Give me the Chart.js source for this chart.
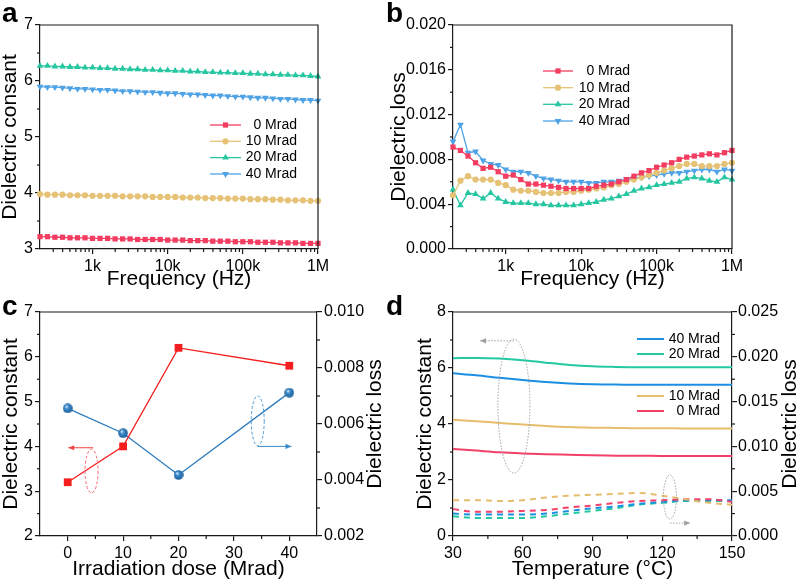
<!DOCTYPE html>
<html><head><meta charset="utf-8">
<script src="https://cdn.jsdelivr.net/npm/chart.js@4/dist/chart.umd.min.js"></script>
<style>
html,body{margin:0;padding:0;background:#fff;}
#wrap{position:relative;width:800px;height:584px;overflow:hidden;background:#fff;}
#wrap canvas{position:absolute;left:0;top:0;}
</style></head><body>
<div id="wrap">
<canvas id="ca" width="800" height="584"></canvas>
<canvas id="cb" width="800" height="584"></canvas>
<canvas id="cc" width="800" height="584"></canvas>
<canvas id="cd" width="800" height="584"></canvas>
</div>
<script>
// ---------------- data ----------------
const freqHz = [200,251,316,398,501,631,794,1000,1259,1585,1995,2512,3162,3981,5012,6310,7943,10000,12589,15849,19953,25119,31623,39811,50119,63096,79433,100000,125893,158489,199526,251189,316228,398107,501187,630957,794328,1000000];
const doseLabels = ['0 Mrad','10 Mrad','20 Mrad','40 Mrad'];

// (a) dielectric constant vs frequency
const epsA0  = [3.22,3.22,3.21,3.21,3.20,3.20,3.20,3.19,3.19,3.19,3.18,3.18,3.18,3.17,3.17,3.17,3.17,3.16,3.16,3.16,3.15,3.15,3.15,3.14,3.14,3.14,3.13,3.13,3.13,3.12,3.12,3.12,3.11,3.11,3.11,3.10,3.10,3.10];
const epsA10 = [3.98,3.97,3.97,3.97,3.96,3.96,3.96,3.95,3.95,3.95,3.95,3.94,3.94,3.94,3.94,3.93,3.93,3.93,3.93,3.92,3.92,3.92,3.91,3.91,3.91,3.90,3.90,3.90,3.89,3.89,3.89,3.88,3.88,3.87,3.87,3.87,3.86,3.86];
const epsA20 = [6.27,6.27,6.26,6.26,6.25,6.25,6.24,6.24,6.23,6.23,6.22,6.22,6.21,6.21,6.20,6.20,6.19,6.19,6.18,6.18,6.17,6.17,6.16,6.16,6.15,6.15,6.14,6.14,6.13,6.13,6.12,6.12,6.11,6.11,6.10,6.10,6.09,6.08];
const epsA40 = [5.90,5.89,5.89,5.88,5.87,5.86,5.86,5.85,5.84,5.84,5.83,5.82,5.82,5.81,5.80,5.80,5.79,5.78,5.78,5.77,5.76,5.76,5.75,5.74,5.74,5.73,5.72,5.72,5.71,5.70,5.70,5.69,5.68,5.68,5.67,5.66,5.66,5.65];

// (b) dielectric loss vs frequency
const lossB0  = [0.0091,0.0088,0.0083,0.0077,0.0072,0.0073,0.0069,0.0065,0.0066,0.0062,0.0058,0.0058,0.0057,0.0056,0.0055,0.0054,0.0054,0.0054,0.0054,0.0056,0.0057,0.0058,0.0060,0.0062,0.0065,0.0068,0.0070,0.0073,0.0075,0.0077,0.0080,0.0082,0.0083,0.0084,0.0085,0.0084,0.0086,0.0088];
const lossB10 = [0.0048,0.0061,0.0065,0.0062,0.0062,0.0062,0.0059,0.0057,0.0053,0.0052,0.0052,0.0051,0.0050,0.0050,0.0050,0.0051,0.0051,0.0052,0.0053,0.0054,0.0055,0.0057,0.0058,0.0060,0.0062,0.0064,0.0066,0.0068,0.0070,0.0072,0.0074,0.0076,0.0076,0.0074,0.0074,0.0074,0.0076,0.0077];
const lossB20 = [0.0053,0.0039,0.0050,0.0049,0.0045,0.0050,0.0045,0.0042,0.0041,0.0041,0.0041,0.0040,0.0040,0.0039,0.0039,0.0039,0.0039,0.0040,0.0041,0.0042,0.0044,0.0045,0.0047,0.0049,0.0052,0.0054,0.0055,0.0057,0.0058,0.0059,0.0060,0.0063,0.0064,0.0063,0.0061,0.0060,0.0064,0.0062];
const lossB40 = [0.0096,0.0111,0.0086,0.0087,0.0079,0.0076,0.0075,0.0071,0.0069,0.0069,0.0068,0.0065,0.0063,0.0062,0.0061,0.0060,0.0060,0.0060,0.0059,0.0059,0.0060,0.0060,0.0061,0.0062,0.0063,0.0064,0.0065,0.0066,0.0067,0.0068,0.0068,0.0069,0.0070,0.0071,0.0071,0.0069,0.0071,0.0070];

// (c) vs irradiation dose
const doseMrad = [0,10,20,40];
const epsC  = [3.2,4.0,6.2,5.8];
const lossC = [0.00656,0.00567,0.00418,0.00712];

// (d) vs temperature
const tempC = [30,40,50,60,70,80,90,100,110,120,130,140,150];
const epsD40 = [5.81,5.74,5.65,5.57,5.50,5.45,5.42,5.41,5.40,5.40,5.40,5.40,5.40];
const epsD20 = [6.35,6.36,6.34,6.28,6.19,6.11,6.06,6.04,6.03,6.03,6.03,6.03,6.03];
const epsD10 = [4.15,4.10,4.04,3.98,3.93,3.89,3.87,3.86,3.85,3.85,3.84,3.84,3.84];
const epsD0  = [3.11,3.05,2.99,2.95,2.92,2.90,2.88,2.87,2.87,2.86,2.86,2.86,2.86];
const lossD40 = [0.0025,0.0024,0.0024,0.0024,0.0025,0.0028,0.0031,0.0033,0.0036,0.0038,0.0040,0.0040,0.0040];
const lossD20 = [0.0022,0.0020,0.0020,0.0020,0.0022,0.0025,0.0028,0.0031,0.0035,0.0037,0.0039,0.0039,0.0039];
const lossD10 = [0.0040,0.0040,0.0039,0.0040,0.0043,0.0045,0.0046,0.0047,0.0048,0.0045,0.0041,0.0037,0.0035];
const lossD0  = [0.0030,0.0027,0.0027,0.0028,0.0029,0.0032,0.0034,0.0037,0.0039,0.0040,0.0041,0.0041,0.0038];

// tick values / labels
const freqTicks = [1e3,1e4,1e5,1e6];
const freqTickLabels = ['1k','10k','100k','1M'];
const freqMinor = [300,400,500,600,700,800,900,2000,3000,4000,5000,6000,7000,8000,9000,20000,30000,40000,50000,60000,70000,80000,90000,200000,300000,400000,500000,600000,700000,800000,900000];
const epsTicksA = [3,4,5,6,7];
const epsTickLabelsA = ['3','4','5','6','7'];
const epsMinorA = [3.5,4.5,5.5,6.5];
const lossTicksB = [0,0.004,0.008,0.012,0.016,0.020];
const lossTickLabelsB = ['0.000','0.004','0.008','0.012','0.016','0.020'];
const lossMinorB = [0.002,0.006,0.010,0.014,0.018];
const doseTicks = [0,10,20,30,40];
const doseTickLabels = ['0','10','20','30','40'];
const doseMinor = [5,15,25,35];
const epsTicksC = [2,3,4,5,6,7];
const epsTickLabelsC = ['2','3','4','5','6','7'];
const epsMinorC = [2.5,3.5,4.5,5.5,6.5];
const lossTicksC = [0.002,0.004,0.006,0.008,0.010];
const lossTickLabelsC = ['0.002','0.004','0.006','0.008','0.010'];
const lossMinorC = [0.003,0.005,0.007,0.009];
const tempTicks = [30,60,90,120,150];
const tempTickLabels = ['30','60','90','120','150'];
const tempMinor = [45,75,105,135];
const epsTicksD = [0,2,4,6,8];
const epsTickLabelsD = ['0','2','4','6','8'];
const epsMinorD = [1,3,5,7];
const lossTicksD = [0,0.005,0.010,0.015,0.020,0.025];
const lossTickLabelsD = ['0.000','0.005','0.010','0.015','0.020','0.025'];
const lossMinorD = [0.0025,0.0075,0.0125,0.0175,0.0225];

// ---------------- styling helpers ----------------
const FF = '"Liberation Sans", Arial, Helvetica, sans-serif';
const AX = '#1a1a1a';
Chart.defaults.font.family = FF;
const COL = {r:'#F23D60', y:'#E6C276', g:'#25C6A1', b:'#4EA2E6'};
const COLD = {r:'#F2406A', y:'#E5BD6C', g:'#22C9A2', b:'#1C8FE2'};

function axis(c){
  const horiz = c.position === 'bottom';
  return {
    type: c.type || 'linear', position: c.position, min: c.min, max: c.max, offset:false,
    afterBuildTicks: s => { s.ticks = c.ticks.map(v => ({value:v})); },
    afterFit: s => { if (horiz) s.height = c.size; else s.width = c.size; },
    grid:{display:true, drawOnChartArea:false, drawTicks:true, tickLength:5, tickWidth:1.2, tickColor:AX, color:AX, lineWidth:1.2},
    border:{display:true, color:AX, width:1.2},
    ticks:{color:'#000', font:{family:FF, size:16}, padding:(c.pad==null?2:c.pad), maxRotation:0, minRotation:0, autoSkip:false,
      callback:(v,i)=>c.labels[i]},
    title:{display:false}
  };
}

function sphere(d){
  const cv = document.createElement('canvas'); cv.width = cv.height = d;
  const g = cv.getContext('2d'); const r = d/2;
  const gr = g.createRadialGradient(r*0.7, r*0.62, r*0.05, r, r, r);
  gr.addColorStop(0, '#e8f4fc'); gr.addColorStop(0.35, '#3b8ccf'); gr.addColorStop(1, '#1c5a93');
  g.fillStyle = gr; g.beginPath(); g.arc(r, r, r-0.2, 0, Math.PI*2); g.fill();
  return cv;
}

function seg(ctx,x0,y0,x1,y1){ ctx.beginPath(); ctx.moveTo(x0,y0); ctx.lineTo(x1,y1); ctx.stroke(); }
function arrowHead(ctx,x,y,dir,color){
  ctx.save(); ctx.setLineDash([]); ctx.fillStyle=color; ctx.beginPath();
  ctx.moveTo(x,y); ctx.lineTo(x-dir*6,y-2.6); ctx.lineTo(x-dir*6,y+2.6); ctx.closePath(); ctx.fill(); ctx.restore();
}

function deco(cfg){
  return { id:'deco', afterDraw(chart){
    const ctx = chart.ctx, a = chart.chartArea, S = chart.scales;
    ctx.save();
    ctx.strokeStyle = AX; ctx.lineWidth = 1.2; ctx.setLineDash([]);
    ctx.beginPath(); ctx.moveTo(a.left, a.top); ctx.lineTo(a.right, a.top);
    if (!S.y2) ctx.lineTo(a.right, a.bottom);
    ctx.stroke();
    (cfg.minorX||[]).forEach(v=>{ const p=S.x.getPixelForValue(v); seg(ctx,p,a.bottom,p,a.bottom+3); });
    (cfg.minorY||[]).forEach(v=>{ const p=S.y.getPixelForValue(v); seg(ctx,a.left,p,a.left-3,p); });
    (cfg.minorY2||[]).forEach(v=>{ const p=S.y2.getPixelForValue(v); seg(ctx,a.right,p,a.right+3,p); });
    // annotations: ellipses and arrows given in data units
    (cfg.ellipses||[]).forEach(e=>{
      const cx=S.x.getPixelForValue(e.x), cy=S[e.axis].getPixelForValue(e.y);
      ctx.save(); ctx.strokeStyle=e.color; ctx.lineWidth=e.lw||1; ctx.setLineDash(e.dash);
      ctx.beginPath(); ctx.ellipse(cx,cy,e.rx,e.ry,0,0,Math.PI*2); ctx.stroke(); ctx.restore();
    });
    (cfg.arrows||[]).forEach(r=>{
      const x0=S.x.getPixelForValue(r.x0), x1=S.x.getPixelForValue(r.x1), y=S[r.axis].getPixelForValue(r.y);
      ctx.save(); ctx.strokeStyle=r.color; ctx.lineWidth=r.lw||1; ctx.setLineDash(r.dash);
      seg(ctx,x0,y,x1,y); ctx.restore();
      arrowHead(ctx,x1,y,x1>x0?1:-1,r.color);
    });
    // legend
    if (cfg.legend){
      const L = cfg.legend;
      ctx.font = L.size+'px '+FF; ctx.textAlign='right'; ctx.textBaseline='middle';
      L.items.forEach((it,k)=>{
        const ds = chart.data.datasets[it.ds], y = L.rows[k];
        ctx.save(); ctx.strokeStyle = ds.borderColor; ctx.lineWidth = ds.borderWidth; ctx.setLineDash([]);
        seg(ctx, L.x0, y, L.x1, y);
        if (ds.pointRadius > 0){
          ctx.fillStyle = ds.pointBackgroundColor;
          Chart.helpers.drawPoint(ctx, {pointStyle:ds.pointStyle, radius:ds.pointRadius, rotation:ds.pointRotation||0, borderWidth:0}, (L.x0+L.x1)/2, y);
        }
        ctx.restore();
        ctx.fillStyle = '#000'; ctx.fillText(it.text, L.tx, y);
      });
    }
    // axis titles (vertical ones read bottom to top)
    ctx.fillStyle='#000'; ctx.font='21px '+FF; ctx.textAlign='center'; ctx.textBaseline='middle';
    (cfg.titles||[]).forEach(t=>{
      ctx.save();
      if (t.vertical){ ctx.translate(t.pos, (a.top+a.bottom)/2); ctx.rotate(-Math.PI/2); }
      else { ctx.translate((a.left+a.right)/2, t.pos); }
      ctx.fillText(t.text, 0, 0); ctx.restore();
    });
    // panel letter
    ctx.fillStyle='#000'; ctx.font='bold 28px '+FF; ctx.textAlign='left'; ctx.textBaseline='alphabetic';
    ctx.fillText(cfg.letter.t, cfg.letter.x, cfg.letter.y);
    ctx.restore();
  }};
}

function padFor(area, yw, y2w, xh){
  return {left: area.l - yw, top: area.t, right: 800 - area.r - y2w, bottom: 584 - area.b - xh};
}
const base = {responsive:false, animation:false, devicePixelRatio:1, events:[]};

function lineDs(label, xs, ys, color, style, radius, rot, axisId){
  return {label, data: xs.map((x,i)=>({x, y:ys[i]})), borderColor:color, backgroundColor:color,
    pointBackgroundColor:color, pointBorderWidth:0, pointStyle:style, pointRadius:radius, pointRotation:rot||0,
    borderWidth:1.3, tension:0, clip:false, yAxisID: axisId||'y'};
}

// ---------------- (a) ----------------
const areaA = {l:40, t:25, r:318, b:249};
new Chart(document.getElementById('ca'), {
  type:'line',
  data:{datasets:[
    lineDs(doseLabels[0], freqHz, epsA0,  COL.r, 'rect', 3.7),
    lineDs(doseLabels[1], freqHz, epsA10, COL.y, 'circle', 3.1),
    lineDs(doseLabels[2], freqHz, epsA20, COL.g, 'triangle', 3.9),
    lineDs(doseLabels[3], freqHz, epsA40, COL.b, 'triangle', 3.9, 180)
  ]},
  options:Object.assign({}, base, {
    layout:{padding:padFor(areaA,40,0,41)},
    plugins:{legend:{display:false}, tooltip:{enabled:false}},
    scales:{
      x: axis({type:'logarithmic', position:'bottom', min:200, max:1e6, ticks:freqTicks, labels:freqTickLabels, size:41, pad:3}),
      y: axis({position:'left', min:3, max:7, ticks:epsTicksA, labels:epsTickLabelsA, size:40})
    }
  }),
  plugins:[deco({minorX:freqMinor, minorY:epsMinorA, letter:{t:'a', x:2, y:22},
    titles:[{text:'Dielectric consant', vertical:true, pos:10.5},{text:'Frequency (Hz)', pos:279}],
    legend:{x0:210, x1:241, tx:297, size:14, rows:[125,141.3,157.6,174], items:[{ds:0,text:doseLabels[0]},{ds:1,text:doseLabels[1]},{ds:2,text:doseLabels[2]},{ds:3,text:doseLabels[3]}]}})]
});

// ---------------- (b) ----------------
const areaB = {l:453, t:25, r:732, b:249};
new Chart(document.getElementById('cb'), {
  type:'line',
  data:{datasets:[
    lineDs(doseLabels[0], freqHz, lossB0,  COL.r, 'rect', 3.7),
    lineDs(doseLabels[1], freqHz, lossB10, COL.y, 'circle', 3.1),
    lineDs(doseLabels[2], freqHz, lossB20, COL.g, 'triangle', 3.9),
    lineDs(doseLabels[3], freqHz, lossB40, COL.b, 'triangle', 3.9, 180)
  ]},
  options:Object.assign({}, base, {
    layout:{padding:padFor(areaB,60,0,41)},
    plugins:{legend:{display:false}, tooltip:{enabled:false}},
    scales:{
      x: axis({type:'logarithmic', position:'bottom', min:200, max:1e6, ticks:freqTicks, labels:freqTickLabels, size:41, pad:3}),
      y: axis({position:'left', min:0, max:0.020, ticks:lossTicksB, labels:lossTickLabelsB, size:60})
    }
  }),
  plugins:[deco({minorX:freqMinor, minorY:lossMinorB, letter:{t:'b', x:386, y:22},
    titles:[{text:'Dielectric loss', vertical:true, pos:399},{text:'Frequency (Hz)', pos:279}],
    legend:{x0:543, x1:573, tx:630, size:14, rows:[71,87.7,104.3,121], items:[{ds:0,text:doseLabels[0]},{ds:1,text:doseLabels[1]},{ds:2,text:doseLabels[2]},{ds:3,text:doseLabels[3]}]}})]
});

// ---------------- (c) ----------------
const areaC = {l:40, t:312, r:317, b:536};
const dsC1 = lineDs('Dielectric constant', doseMrad, epsC, '#F51E1E', 'rect', 5.5);
const dsC2 = lineDs('Dielectric loss', doseMrad, lossC, '#2B7BBE', sphere(10), 5, 0, 'y2');
new Chart(document.getElementById('cc'), {
  type:'line',
  data:{datasets:[dsC1, dsC2]},
  options:Object.assign({}, base, {
    layout:{padding:padFor(areaC,40,83,48)},
    plugins:{legend:{display:false}, tooltip:{enabled:false}},
    scales:{
      x: axis({position:'bottom', min:-5, max:45, ticks:doseTicks, labels:doseTickLabels, size:48, pad:3}),
      y: axis({position:'left', min:2, max:7, ticks:epsTicksC, labels:epsTickLabelsC, size:40}),
      y2: axis({position:'right', min:0.002, max:0.010, ticks:lossTicksC, labels:lossTickLabelsC, size:83})
    }
  }),
  plugins:[deco({minorX:doseMinor, minorY:epsMinorC, minorY2:lossMinorC, letter:{t:'c', x:2, y:315},
    titles:[{text:'Dielectric constant', vertical:true, pos:11},{text:'Irradiation dose (Mrad)', pos:569},{text:'Dielectric loss', vertical:true, pos:375.7}],
    ellipses:[{x:4.3, y:3.45, axis:'y', rx:6.5, ry:22, color:'#F56A6A', dash:[3,2]},
              {x:34.3, y:4.57, axis:'y', rx:6.5, ry:25, color:'#4C9AD6', dash:[3,2]}],
    arrows:[{x0:4.6, x1:0.1, y:3.97, axis:'y', color:'#F24545', dash:[]},
            {x0:34.3, x1:40.4, y:4.0, axis:'y', color:'#3C8ACB', dash:[]}]})]
});

// ---------------- (d) ----------------
const areaD = {l:453, t:312, r:732, b:536};
function dLine(label, ys, color, axisId, dash){
  const d = lineDs(label, tempC, ys, color, 'circle', 0, 0, axisId);
  d.borderWidth = 2; d.cubicInterpolationMode = 'monotone'; d.borderDash = dash || [];
  return d;
}
new Chart(document.getElementById('cd'), {
  type:'line',
  data:{datasets:[
    dLine(doseLabels[3], epsD40, COLD.b, 'y'),
    dLine(doseLabels[2], epsD20, COLD.g, 'y'),
    dLine(doseLabels[1], epsD10, COLD.y, 'y'),
    dLine(doseLabels[0], epsD0,  COLD.r, 'y'),
    dLine(doseLabels[1], lossD10, COLD.y, 'y2', [6,5]),
    dLine(doseLabels[0], lossD0,  COLD.r, 'y2', [6,5]),
    dLine(doseLabels[3], lossD40, COLD.b, 'y2', [6,5]),
    dLine(doseLabels[2], lossD20, COLD.g, 'y2', [6,5])
  ]},
  options:Object.assign({}, base, {
    layout:{padding:padFor(areaD,53,68,48)},
    plugins:{legend:{display:false}, tooltip:{enabled:false}},
    scales:{
      x: axis({position:'bottom', min:30, max:150, ticks:tempTicks, labels:tempTickLabels, size:48, pad:3}),
      y: axis({position:'left', min:0, max:8, ticks:epsTicksD, labels:epsTickLabelsD, size:53}),
      y2: axis({position:'right', min:0, max:0.025, ticks:lossTicksD, labels:lossTickLabelsD, size:68, pad:1})
    }
  }),
  plugins:[deco({minorX:tempMinor, minorY:epsMinorD, minorY2:lossMinorD, letter:{t:'d', x:386, y:315},
    titles:[{text:'Dielectric constant', vertical:true, pos:425.5},{text:'Temperature (°C)', pos:569},{text:'Dielectric loss', vertical:true, pos:790.7}],
    ellipses:[{x:56.2, y:4.64, axis:'y', rx:16, ry:67, color:'#a0a0a0', dash:[1.5,1.5]},
              {x:123.3, y:1.39, axis:'y', rx:6.5, ry:22, color:'#a0a0a0', dash:[1.5,1.5]}],
    arrows:[{x0:56.2, x1:41.6, y:6.97, axis:'y', color:'#a0a0a0', dash:[1.5,1.5]},
            {x0:123.3, x1:132, y:0.46, axis:'y', color:'#a0a0a0', dash:[1.5,1.5]}],
    legend:{x0:637, x1:664, tx:720, size:14, rows:[339,354,396,411], items:[{ds:0,text:doseLabels[3]},{ds:1,text:doseLabels[2]},{ds:2,text:doseLabels[1]},{ds:3,text:doseLabels[0]}]}})]
});
</script>
</body></html>
